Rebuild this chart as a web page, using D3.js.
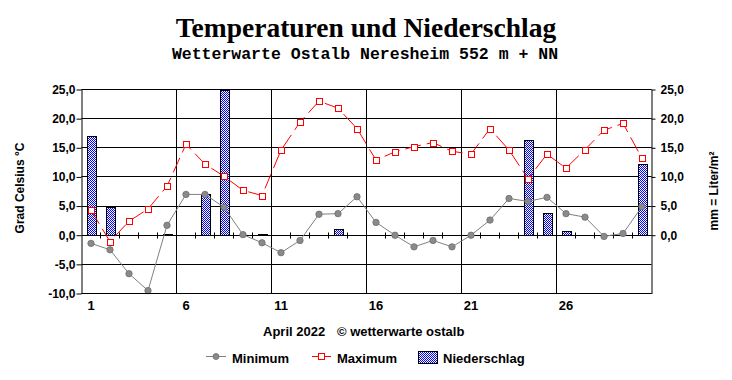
<!DOCTYPE html>
<html>
<head>
<meta charset="utf-8">
<script src="https://cdn.jsdelivr.net/npm/d3@7"></script>
<style>
  body { margin: 0; background: #fff; }
  svg { display: block; }
  text { font-family: "Liberation Sans", Arial, sans-serif; font-weight: bold; fill: #000; }
</style>
</head>
<body>
<div id="chart"></div>
<script>
// April 2022, Wetterwarte Ostalb
const days = d3.range(1, 31);
const tMin = [-1.4, -2.5, -6.6, -9.5, 1.7, 7.0, 7.0, 4.8, 0.1, -1.3,
              -3.0, -0.9, 3.6, 3.7, 6.6, 2.2, 0.0, -2.0, -0.9, -2.0,
              0.0, 2.6, 6.3, 5.8, 6.5, 3.7, 3.1, -0.2, 0.3, 4.9];
const tMax = [4.3, -1.1, 2.4, 4.5, 8.4, 15.6, 12.2, 10.1, 7.7, 6.8,
              14.6, 19.4, 23.0, 21.8, 18.3, 12.9, 14.3, 15.2, 15.9, 14.4,
              13.9, 18.3, 14.6, 9.7, 13.9, 11.5, 14.7, 18.0, 19.2, 13.2];
const rain = [16.9, 4.8, 0, 0, 0.2, 0, 7.0, 24.9, 0, 0.2,
              0, 0, 0, 1.0, 0, 0, 0, 0, 0, 0,
              0, 0, 0, 16.3, 3.7, 0.6, 0, 0, 0, 12.1];
const tempTicks = [-10, -5, 0, 5, 10, 15, 20, 25];
const rainTicks = [0, 5, 10, 15, 20, 25];
const dayLabels = [1, 6, 11, 16, 21, 26];

const W = 732, H = 380;
const plot = { left: 81.5, right: 651.5, top: 89.5, bottom: 293.5 };

const svg = d3.select("#chart").append("svg")
    .attr("width", W).attr("height", H);

// blue dotted fill of the bars
const defs = svg.append("defs");
const pat = defs.append("pattern")
    .attr("id", "dots").attr("patternUnits", "userSpaceOnUse")
    .attr("width", 2).attr("height", 2)
    .attr("shape-rendering", "crispEdges");
pat.append("rect").attr("width", 2).attr("height", 2).attr("fill", "#fff");
pat.append("rect").attr("x", 0).attr("y", 0).attr("width", 1).attr("height", 1).attr("fill", "#0000ff");
pat.append("rect").attr("x", 1).attr("y", 1).attr("width", 1).attr("height", 1).attr("fill", "#0000ff");

const x = d3.scaleLinear().domain([0.5, 30.5]).range([plot.left, plot.right]);
const y = d3.scaleLinear().domain([-10, 25]).range([plot.bottom, plot.top]);
const crisp = v => Math.round(v - 0.5) + 0.5;
const fmt = d => d.toFixed(1).replace(".", ",");

// title
svg.append("text").attr("x", 366).attr("y", 37).attr("text-anchor", "middle")
    .style("font-family", "'Liberation Serif', 'Times New Roman', serif")
    .style("font-size", "27.5px").text("Temperaturen und Niederschlag");
svg.append("text").attr("x", 365).attr("y", 59).attr("text-anchor", "middle")
    .style("font-family", "'Liberation Mono', 'Courier New', monospace")
    .style("font-size", "16.5px").text("Wetterwarte Ostalb Neresheim 552 m + NN");

// grid
const grid = svg.append("g").attr("stroke", "#000").attr("stroke-width", 1);
grid.selectAll(".h").data(tempTicks).enter().append("line")
    .attr("x1", plot.left).attr("x2", plot.right)
    .attr("y1", d => crisp(y(d))).attr("y2", d => crisp(y(d)));
grid.selectAll(".v").data([5.5, 10.5, 15.5, 20.5, 25.5]).enter().append("line")
    .attr("x1", d => crisp(x(d))).attr("x2", d => crisp(x(d)))
    .attr("y1", plot.top).attr("y2", plot.bottom);

// precipitation bars
const barW = 9;
svg.append("g").selectAll("rect").data(days.filter((d, i) => rain[i] > 0)).enter().append("rect")
    .attr("x", d => Math.round(x(d) - barW / 2) + 0.5)
    .attr("y", d => crisp(y(rain[d - 1])))
    .attr("width", barW)
    .attr("height", d => Math.max(1, crisp(y(0)) - crisp(y(rain[d - 1]))))
    .attr("fill", "url(#dots)").attr("stroke", "#000").attr("stroke-width", 1);

// day ticks on zero line
svg.append("g").selectAll("line").data(d3.range(1.5, 30, 1)).enter().append("line")
    .attr("x1", d => crisp(x(d))).attr("x2", d => crisp(x(d)))
    .attr("y1", crisp(y(0)) - 3).attr("y2", crisp(y(0)) + 3)
    .attr("stroke", "#000");

// minimum line
const line = v => d3.line().x((d, i) => x(days[i])).y(d => y(d))(v);
svg.append("path").attr("d", line(tMin))
    .attr("fill", "none").attr("stroke", "#808080").attr("stroke-width", 1);
svg.append("g").selectAll("circle").data(tMin).enter().append("circle")
    .attr("cx", (d, i) => x(days[i])).attr("cy", d => y(d)).attr("r", 3.2)
    .attr("fill", "#8a8a8a").attr("stroke", "#6e6e6e").attr("stroke-width", 0.8);

// maximum line
svg.append("path").attr("d", line(tMax))
    .attr("fill", "none").attr("stroke", "#ff0000").attr("stroke-width", 1)
    .attr("stroke-dasharray", "16,6");
svg.append("g").selectAll("rect").data(tMax).enter().append("rect")
    .attr("x", (d, i) => Math.round(x(days[i]) - 3) + 0.5)
    .attr("y", d => Math.round(y(d) - 3) + 0.5)
    .attr("width", 6).attr("height", 6)
    .attr("fill", "#fff").attr("stroke", "#ff0000").attr("stroke-width", 1);

// axes
const axL = svg.append("g").attr("transform", `translate(${plot.left},0)`)
    .call(d3.axisLeft(y).tickValues(tempTicks).tickFormat(fmt).tickSize(5).tickPadding(1).tickSizeOuter(0));
const axR = svg.append("g").attr("transform", `translate(${plot.right},0)`)
    .call(d3.axisRight(y).tickValues(rainTicks).tickFormat(fmt).tickSize(4).tickPadding(5).tickSizeOuter(0));
[axL, axR].forEach(a => {
  a.select(".domain").attr("stroke", "#000");
  a.selectAll(".tick line").attr("stroke", "#000");
  a.selectAll("text").style("font-size", "12px").style("font-family", "'Liberation Sans', Arial, sans-serif")
      .style("font-weight", "bold").attr("fill", "#000");
});
// top and bottom borders
svg.append("line").attr("x1", plot.left).attr("x2", plot.right)
    .attr("y1", crisp(y(25))).attr("y2", crisp(y(25))).attr("stroke", "#000");
svg.append("line").attr("x1", plot.left).attr("x2", plot.right)
    .attr("y1", crisp(y(-10))).attr("y2", crisp(y(-10))).attr("stroke", "#000");

// day labels
svg.append("g").selectAll("text").data(dayLabels).enter().append("text")
    .attr("x", d => x(d)).attr("y", 310).attr("text-anchor", "middle")
    .style("font-size", "13px").text(d => d);

// axis titles
svg.append("text").attr("transform", "translate(24,188) rotate(-90)")
    .attr("text-anchor", "middle").style("font-size", "12px").text("Grad Celsius °C");
svg.append("text").attr("transform", "translate(718,191) rotate(-90)")
    .attr("text-anchor", "middle").style("font-size", "12px").text("mm = Liter/m²");

// footer
svg.append("text").attr("x", 263).attr("y", 336).style("font-size", "13px").text("April 2022");
svg.append("text").attr("x", 337).attr("y", 336).style("font-size", "13px").text("© wetterwarte ostalb");

// legend
const lg = svg.append("g");
lg.append("line").attr("x1", 206).attr("x2", 226).attr("y1", 356.5).attr("y2", 356.5).attr("stroke", "#808080");
lg.append("circle").attr("cx", 216).attr("cy", 356.5).attr("r", 3).attr("fill", "#8a8a8a").attr("stroke", "#6e6e6e").attr("stroke-width", 0.8);
lg.append("text").attr("x", 232).attr("y", 363).style("font-size", "13px").text("Minimum");
lg.append("line").attr("x1", 312).attr("x2", 331).attr("y1", 356.5).attr("y2", 356.5).attr("stroke", "#ff0000");
lg.append("rect").attr("x", 318.5).attr("y", 353.5).attr("width", 6).attr("height", 6).attr("fill", "#fff").attr("stroke", "#ff0000");
lg.append("text").attr("x", 337).attr("y", 363).style("font-size", "13px").text("Maximum");
lg.append("rect").attr("x", 418.5).attr("y", 351.5).attr("width", 19).attr("height", 12).attr("fill", "url(#dots)").attr("stroke", "#000");
lg.append("text").attr("x", 443).attr("y", 363).style("font-size", "13px").text("Niederschlag");
</script>
</body>
</html>
